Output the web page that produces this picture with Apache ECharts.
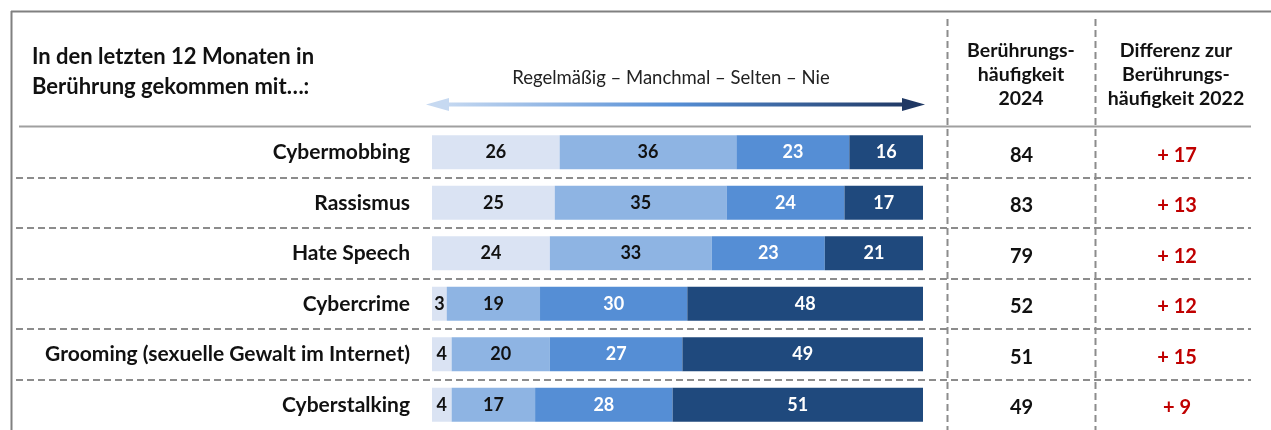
<!DOCTYPE html>
<html lang="de">
<head>
    <meta charset="UTF-8">
    <title>Berührung mit Online-Phänomenen</title>
    <script src="https://cdn.jsdelivr.net/npm/echarts@6/dist/echarts.min.js"></script>
    <style>
        html, body {margin: 0; padding: 0; background: #fff;}
        #main {width: 1271px; height: 430px;}
    </style>
</head>
<body>
<div id="main"></div>
<script>
    // Daten
    var categories = ['Cybermobbing', 'Rassismus', 'Hate Speech', 'Cybercrime', 'Grooming (sexuelle Gewalt im Internet)', 'Cyberstalking'];
    var regelmaessig = [26, 25, 24, 3, 4, 4];
    var manchmal = [36, 35, 33, 19, 20, 17];
    var selten = [23, 24, 23, 30, 27, 28];
    var nie = [16, 17, 21, 48, 49, 51];
    var haeufigkeit2024 = [84, 83, 79, 52, 51, 49];
    var differenz2022 = [17, 13, 12, 12, 15, 9];

    var FONT = 'Lato, "Noto Sans", sans-serif';
    var GREY = '#8c8c8c';

    var myChart = echarts.init(document.getElementById('main'));

    function barSeries(name, data, color, labelColor) {
        return {
            name: name,
            type: 'bar',
            stack: 'total',
            xAxisIndex: 1,
            yAxisIndex: 1,
            barWidth: 34,
            data: data,
            itemStyle: {color: color},
            label: {
                show: true,
                position: 'inside',
                color: labelColor,
                fontFamily: FONT,
                fontWeight: 'bold',
                fontSize: 18
            }
        };
    }

    function columnSeries(idx, values, color, fmt) {
        return {
            type: 'scatter',
            xAxisIndex: idx,
            yAxisIndex: idx,
            symbolSize: 0,
            silent: true,
            itemStyle: {opacity: 1},
            data: values.map(function (v, i) { return [0.5, i, v]; }),
            label: {
                show: true,
                position: 'inside',
                offset: [0, 3],
                color: color,
                fontFamily: FONT,
                fontWeight: 'bold',
                fontSize: 20,
                formatter: function (p) { return fmt(p.data[2]); }
            }
        };
    }

    var catAxis = {
        type: 'category',
        data: categories,
        inverse: true,
        axisLine: {show: false},
        axisTick: {show: false},
        axisLabel: {show: false},
        splitLine: {show: false}
    };

    var option = {
        animation: false,
        title: [
            {
                text: 'In den letzten 12 Monaten in\nBerührung gekommen mit…:',
                left: 32, top: 42, padding: 0,
                textStyle: {fontFamily: FONT, fontWeight: 'bold', fontSize: 22, lineHeight: 30, color: '#111'}
            },
            {
                text: 'Regelmäßig – Manchmal – Selten – Nie',
                left: 671, top: 69, padding: 0, textAlign: 'center',
                textStyle: {fontFamily: FONT, fontWeight: 'normal', fontSize: 18.5, color: '#222'}
            },
            {
                text: 'Berührungs-\nhäufigkeit\n2024',
                left: 1021, top: 39, padding: 0, textAlign: 'center',
                textStyle: {fontFamily: FONT, fontWeight: 'bold', fontSize: 19.5, lineHeight: 24, color: '#111'}
            },
            {
                text: 'Differenz zur\nBerührungs-\nhäufigkeit 2022',
                left: 1176, top: 39, padding: 0, textAlign: 'center',
                textStyle: {fontFamily: FONT, fontWeight: 'bold', fontSize: 19.5, lineHeight: 24, color: '#111'}
            }
        ],
        grid: [
            {left: 16, width: 1235, top: 127, height: 305},   // Trennlinien
            {left: 432, width: 491, top: 127, height: 305},   // Balken
            {left: 947, width: 149, top: 127, height: 305},   // Häufigkeit 2024
            {left: 1096, width: 162, top: 127, height: 305}   // Differenz
        ],
        xAxis: [
            {gridIndex: 0, type: 'value', show: false, min: 0, max: 1},
            {gridIndex: 1, type: 'value', show: false, min: 0, max: 100},
            {gridIndex: 2, type: 'value', show: false, min: 0, max: 1},
            {gridIndex: 3, type: 'value', show: false, min: 0, max: 1}
        ],
        yAxis: [
            echarts.util.merge({
                gridIndex: 0,
                splitLine: {
                    show: true, interval: 0, showMinLine: false, showMaxLine: false,
                    lineStyle: {color: GREY, width: 2, type: [7, 4]}
                }
            }, catAxis, false),
            echarts.util.merge({
                gridIndex: 1,
                axisLabel: {
                    show: true, margin: 22, interval: 0, padding: [6, 0, 0, 0],
                    color: '#111', fontFamily: FONT, fontWeight: 'bold', fontSize: 21
                }
            }, catAxis, false),
            echarts.util.merge({gridIndex: 2}, catAxis, false),
            echarts.util.merge({gridIndex: 3}, catAxis, false)
        ],
        series: [
            barSeries('Regelmäßig', regelmaessig, '#DAE3F3', '#111'),
            barSeries('Manchmal', manchmal, '#8EB4E3', '#111'),
            barSeries('Selten', selten, '#558ED5', '#fff'),
            barSeries('Nie', nie, '#1F497D', '#fff'),
            columnSeries(2, haeufigkeit2024, '#111', function (v) { return String(v); }),
            columnSeries(3, differenz2022, '#C00000', function (v) { return '+ ' + v; })
        ],
        graphic: [
            // Rahmen
            {type: 'line', shape: {x1: 11, y1: 11.5, x2: 1271, y2: 11.5}, style: {stroke: '#808080', lineWidth: 2}},
            {type: 'line', shape: {x1: 11.5, y1: 11, x2: 11.5, y2: 430}, style: {stroke: '#808080', lineWidth: 2}},
            {type: 'line', shape: {x1: 19, y1: 126.5, x2: 1251, y2: 126.5}, style: {stroke: '#a0a0a0', lineWidth: 2}},
            // Spaltentrenner
            {type: 'line', shape: {x1: 947.5, y1: 19, x2: 947.5, y2: 430}, style: {stroke: GREY, lineWidth: 2, lineDash: [7, 4]}},
            {type: 'line', shape: {x1: 1095.5, y1: 19, x2: 1095.5, y2: 430}, style: {stroke: GREY, lineWidth: 2, lineDash: [7, 4]}},
            // Pfeil
            {
                type: 'line', shape: {x1: 446, y1: 104.5, x2: 905, y2: 104.5},
                style: {
                    lineWidth: 4,
                    stroke: new echarts.graphic.LinearGradient(0, 0, 1, 0, [
                        {offset: 0, color: '#C6D9F1'},
                        {offset: 0.5, color: '#558ED5'},
                        {offset: 1, color: '#1F3864'}
                    ])
                }
            },
            {type: 'polygon', shape: {points: [[426, 104.5], [449, 98], [449, 111]]}, style: {fill: '#C6D9F1'}},
            {type: 'polygon', shape: {points: [[925, 104.5], [902, 98], [902, 111]]}, style: {fill: '#1F3864'}}
        ]
    };

    myChart.setOption(option);
</script>
</body>
</html>
